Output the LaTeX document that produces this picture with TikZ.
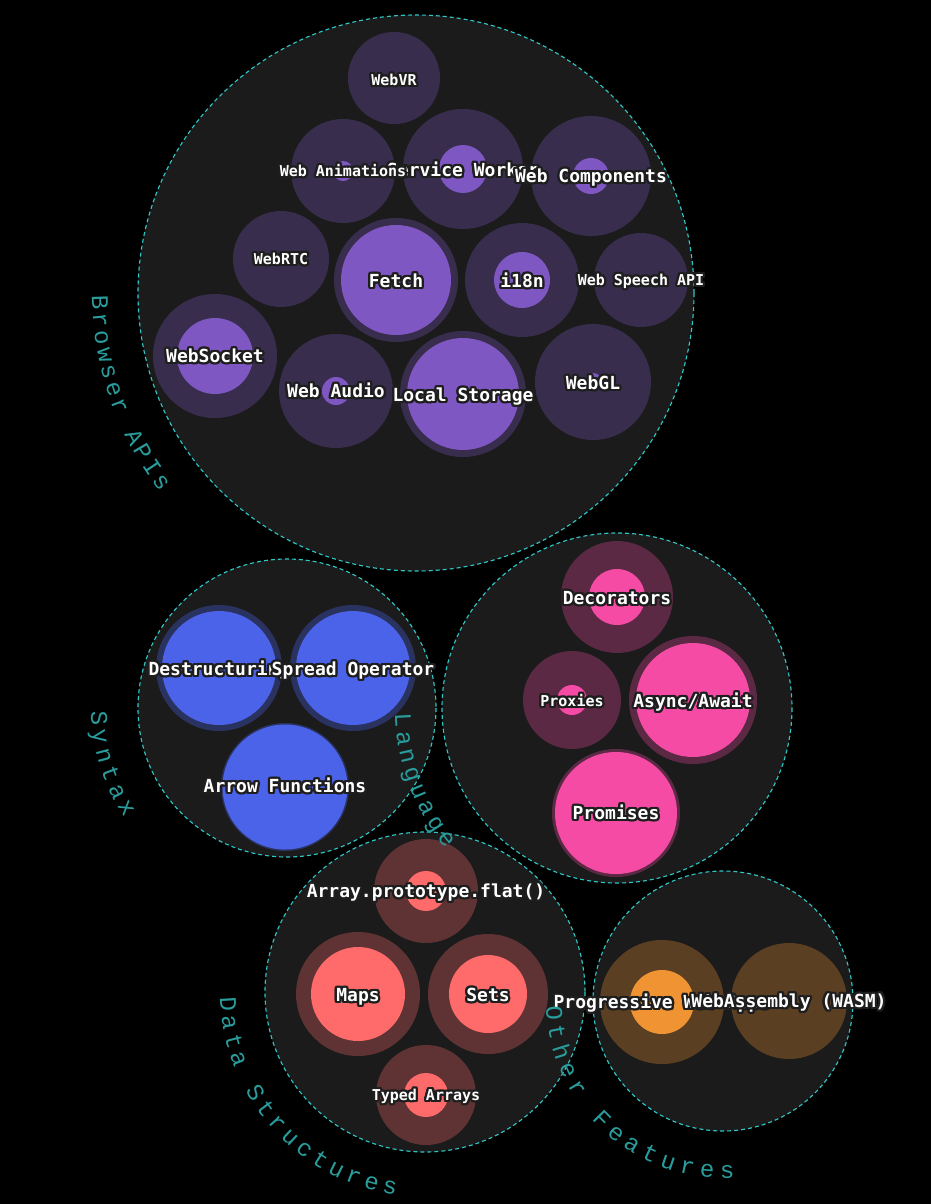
\documentclass[tikz,border=0pt]{standalone}
\usepackage{fontspec}
\newfontfamily\lblfont{DejaVu Sans Mono}
\newfontfamily\arcfont{Liberation Mono}
\definecolor{bg}{HTML}{000000}
\definecolor{panel}{HTML}{1B1B1B}
\definecolor{dashc}{HTML}{30C6C6}
\definecolor{arct}{HTML}{2A9C9C}
\definecolor{halo}{HTML}{1E1E1E}
\definecolor{purI}{HTML}{7E57C2}
\definecolor{purO}{HTML}{392D4D}
\definecolor{bluI}{HTML}{4A63E8}
\definecolor{bluO}{HTML}{2A3260}
\definecolor{pnkI}{HTML}{F54BA5}
\definecolor{pnkO}{HTML}{5C2944}
\definecolor{corI}{HTML}{FF6B6B}
\definecolor{corO}{HTML}{5F3333}
\definecolor{orgI}{HTML}{F09433}
\definecolor{orgO}{HTML}{5B3F22}
\tikzset{
  group/.style={fill=panel, draw=dashc, line width=0.85pt, dash pattern=on 3pt off 2.25pt},
  lbl/.style={inner sep=0pt, anchor=base},
  arcch/.style={text=arct, font=\arcfont\fontsize{18}{18}\selectfont, inner sep=0pt, anchor=base},
}
\newcommand\bub[5]{%
  \fill[#5O] (#1,#2) circle[radius=#3];
  \ifdim #4pt>0pt \fill[#5I] (#1,#2) circle[radius=#4];\fi}
% name, x, text-centre y, size (pt), text
\newcommand\lbl[5]{%
  \pgfmathsetmacro\by{#3+0.48*#4}%
  \foreach \a in {0,22.5,...,337.5}{%
    \node[lbl, text=halo, font=\lblfont\bfseries\fontsize{#4}{#4}\selectfont] at ([shift={(\a:1.7pt)}]#2,\by) {#5};}
  \node[lbl, text=white, font=\lblfont\bfseries\fontsize{#4}{#4}\selectfont] (#1) at (#2,\by) {#5};}
\newcommand\arclbl[7]{%
  \foreach \c [count=\i from 0] in {#7}{%
    \pgfmathsetmacro\ang{#5+\i*#6}%
    \pgfmathsetmacro\rot{\ang+90}%
    \pgfmathsetmacro\rr{#4*0.75}%
    \node[arcch, rotate=\rot] (#1-\i) at ([shift={(\ang:\rr pt)}]#2,#3) {\c};}}
\begin{document}
\begin{tikzpicture}[x=0.75pt, y=-0.75pt]
\fill[bg] (0,0) rectangle (931,1204);
\useasboundingbox (0,0) rectangle (931,1204);
% groups
\path[group] (416,293) circle[radius=278];
\path[group] (287,708) circle[radius=149];
\path[group] (617,708) circle[radius=175];
\path[group] (425,992) circle[radius=160];
\path[group] (723,1001) circle[radius=130];
% Browser APIs
\bub{394}{78}{46}{0}{pur}
\bub{343}{171}{52}{10}{pur}
\bub{463}{169}{60}{24}{pur}
\bub{591}{176}{60}{18}{pur}
\bub{281}{259}{48}{5}{pur}
\bub{396}{280}{62}{55}{pur}
\bub{522}{280}{57}{28}{pur}
\bub{641}{280}{47}{4}{pur}
\bub{215}{356}{62}{38}{pur}
\bub{336}{391}{57}{14}{pur}
\bub{463}{394}{63}{56}{pur}
\bub{593}{382}{58}{9}{pur}
% Syntax
\bub{219}{668}{63}{57}{blu}
\bub{353}{668}{63}{57}{blu}
\bub{285}{787}{64}{62.5}{blu}
% Language
\bub{617}{597}{56}{28}{pnk}
\bub{572}{700}{49}{15}{pnk}
\bub{693}{700}{64}{57}{pnk}
\bub{616}{813}{64}{61}{pnk}
% Data structures
\bub{426}{891}{52}{20}{cor}
\bub{358}{994}{62}{47}{cor}
\bub{488}{994}{60}{39}{cor}
\bub{426}{1095}{50}{22}{cor}
% Other
\bub{662}{1002}{62}{32}{org}
\bub{789}{1001}{58}{0}{org}
% labels
\lbl{webvr}{394}{80}{11.25}{WebVR}
\lbl{sw}{463}{170}{13.5}{Service Worker}
\lbl{wanim}{343}{171}{11.25}{Web Animations}
\lbl{wcomp}{591}{176}{13.5}{Web Components}
\lbl{webrtc}{281}{259}{11.25}{WebRTC}
\lbl{fetch}{396}{281}{13.5}{Fetch}
\lbl{i18n}{522}{281}{13.5}{i18n}
\lbl{wspeech}{641}{280}{11.25}{Web Speech API}
\lbl{wsock}{215}{356}{13.5}{WebSocket}
\lbl{waudio}{336}{391}{13.5}{Web Audio}
\lbl{lstore}{463}{395}{13.5}{Local Storage}
\lbl{webgl}{593}{383}{13.5}{WebGL}
\lbl{destr}{219}{669}{13.5}{Destructuring}
\lbl{spread}{353}{669}{13.5}{Spread Operator}
\lbl{arrow}{285}{786}{13.5}{Arrow Functions}
\lbl{decor}{617}{598}{13.5}{Decorators}
\lbl{proxies}{572}{701}{11.25}{Proxies}
\lbl{async}{693}{701}{13.5}{Async/Await}
\lbl{promises}{616}{813}{13.5}{Promises}
\lbl{flat}{426}{891}{13.5}{Array.prototype.flat()}
\lbl{maps}{358}{995}{13.5}{Maps}
\lbl{sets}{488}{995}{13.5}{Sets}
\lbl{typed}{426}{1095}{11.25}{Typed Arrays}
\lbl{pwa}{662}{1002}{13.5}{Progressive Web Apps}
\lbl{wasm}{789}{1001}{13.5}{WebAssembly (WASM)}
% group titles
\arclbl{tb}{416}{293}{324}{181.8}{3.16}{B,r,o,w,s,e,r,{},A,P,I,s}
\arclbl{ts}{287}{708}{196}{183}{5.8}{S,y,n,t,a,x}
\arclbl{tl}{617}{708}{222}{183.2}{4.9}{L,a,n,g,u,a,g,e}
\arclbl{td}{425}{992}{205}{183.5}{5.45}{D,a,t,a,{},S,t,r,u,c,t,u,r,e,s}
\arclbl{to}{723}{1001}{177}{184}{6.72}{O,t,h,e,r,{},F,e,a,t,u,r,e,s}
\end{tikzpicture}
\end{document}
